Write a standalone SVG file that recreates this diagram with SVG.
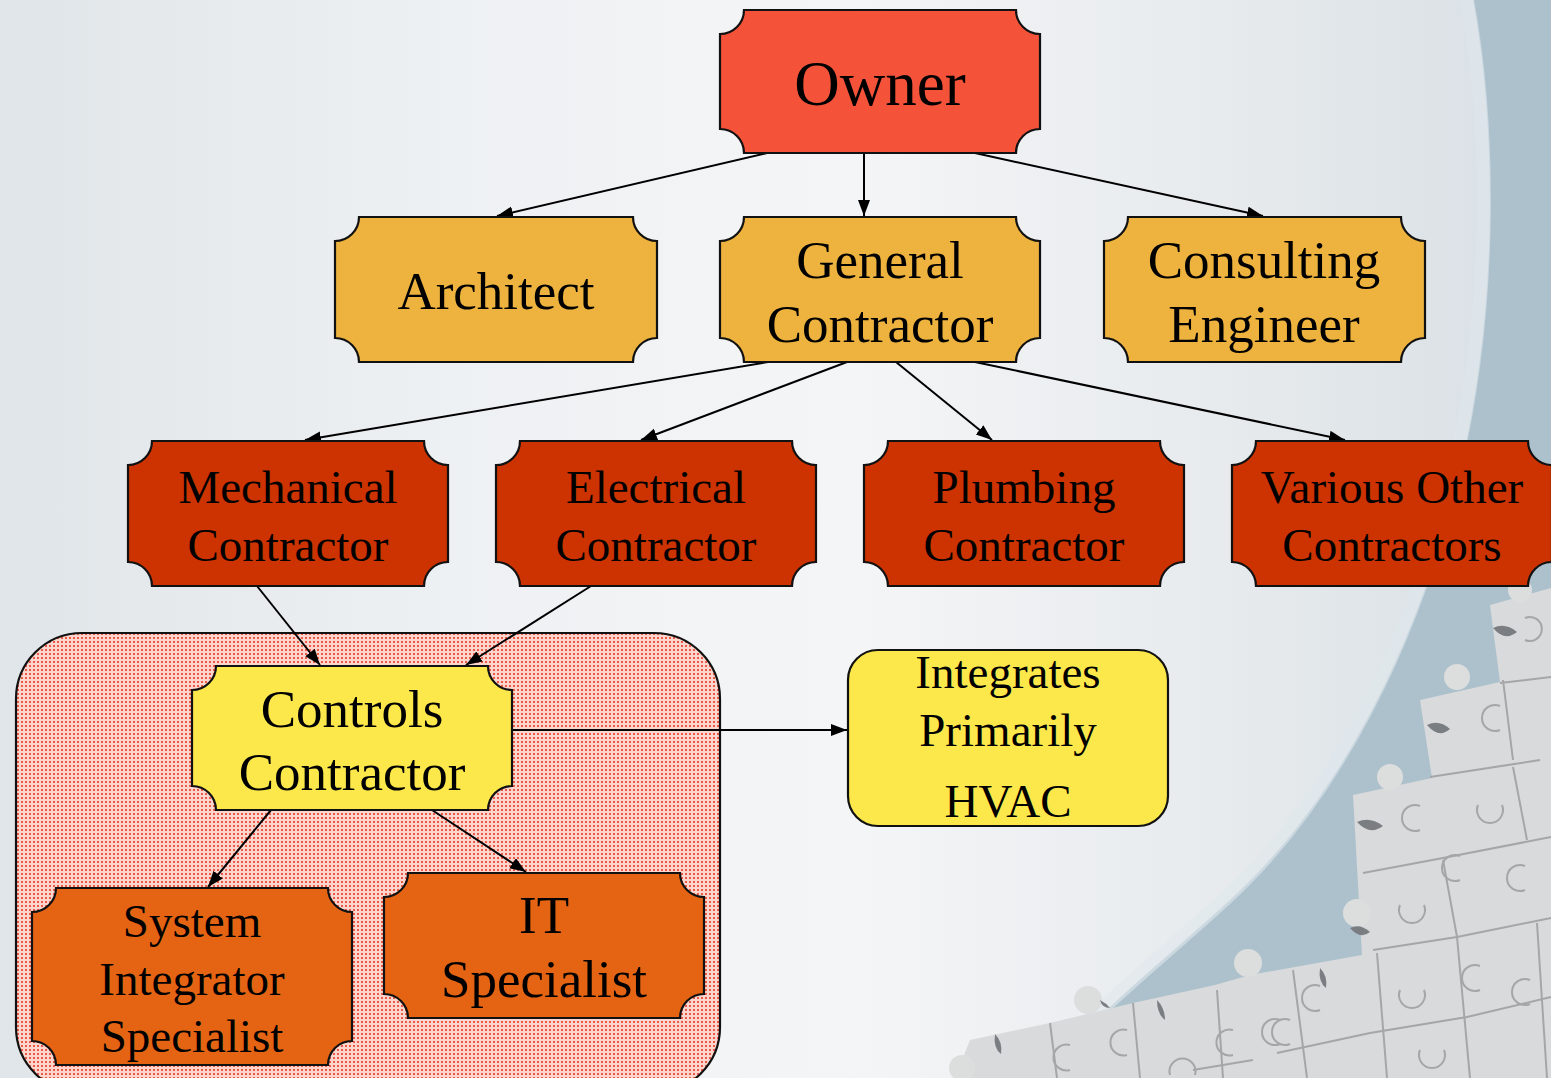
<svg xmlns="http://www.w3.org/2000/svg" width="1551" height="1078" viewBox="0 0 1551 1078">
  <defs>
    <linearGradient id="bg" x1="0" y1="0" x2="1" y2="0">
      <stop offset="0" stop-color="#e0e5e9"/>
      <stop offset="0.3" stop-color="#eef1f3"/>
      <stop offset="0.55" stop-color="#f4f5f6"/>
      <stop offset="0.8" stop-color="#e6eaed"/>
      <stop offset="1" stop-color="#d8dfe4"/>
    </linearGradient>
    <pattern id="dots" width="4" height="4" patternUnits="userSpaceOnUse">
      <rect width="4" height="4" fill="#fad6cf"/>
      <rect x="1" y="1" width="2" height="2" fill="#ec5a45"/>
    </pattern>
    <marker id="arrow" markerWidth="17" markerHeight="13" refX="16" refY="6" orient="auto" markerUnits="userSpaceOnUse">
      <path d="M0,0 L16,6 L0,12 Z" fill="#000"/>
    </marker>
  </defs>
  <style>
    .box { stroke: #111; stroke-width: 2.2; }
    .owner { fill: #f4533a; }
    .tier2 { fill: #edb33e; }
    .tier3 { fill: #cc3300; }
    .controls { fill: #fde84b; }
    .special { fill: #e56413; }
    .note { fill: #fde84b; stroke: #111; stroke-width: 2.2; }
    text { font-family: "Liberation Serif", "Times New Roman", serif; fill: #000; text-anchor: middle; }
    .big { font-size: 63px; }
    .mid { font-size: 53px; }
    .sm { font-size: 47px; }
    .edge { stroke: #000; stroke-width: 2; fill: none; marker-end: url(#arrow); }
    .seam { stroke: #a4a6a8; stroke-width: 2; fill: none; }
    .hole { fill: #7a7e82; }
    .knob { fill: #dcdddd; }
  </style>

  <!-- backdrop -->
  <g id="backdrop">
    <rect width="1551" height="1078" fill="url(#bg)"/>
    <path d="M1473,0 C1495,120 1500,300 1460,470 C1420,640 1340,800 1230,900 C1170,955 1100,1010 1040,1078 L1551,1078 L1551,0 Z" fill="#adc1cd"/>
    <path d="M1473,0 C1495,120 1500,300 1460,470 C1420,640 1340,800 1230,900 C1170,955 1100,1010 1040,1078" fill="none" stroke="#e0e8ec" stroke-width="14" opacity="0.6" transform="translate(-6,0)"/>
    <!-- jigsaw pieces -->
    <path d="M1551,588 L1490,605 L1500,682 L1420,700 L1432,778 L1353,795 L1362,955 L1250,975 L1215,985 L1133,1003 L1050,1023 L970,1040 L955,1078 L1551,1078 Z" fill="#d9dadb"/>
    <circle class="knob" cx="1457" cy="677" r="13"/>
    <circle class="knob" cx="1390" cy="777" r="13"/>
    <circle class="knob" cx="1357" cy="913" r="14"/>
    <circle class="knob" cx="1088" cy="1000" r="14"/>
    <circle class="knob" cx="1248" cy="963" r="14"/>
    <circle class="knob" cx="962" cy="1068" r="13"/>
    <circle class="knob" cx="1520" cy="590" r="12"/>
    <path class="hole" d="M1493,628 q12,-6 24,4 q-12,10 -24,-4 Z"/>
    <path class="hole" d="M1427,725 q12,-6 23,4 q-11,10 -23,-4 Z"/>
    <path class="hole" d="M1357,822 q13,-6 26,4 q-13,10 -26,-4 Z"/>
    <path class="hole" d="M1350,928 q10,-5 20,4 q-10,8 -20,-4 Z"/>
    <path class="hole" d="M1320,968 q8,8 6,20 q-8,-6 -6,-20 Z"/>
    <path class="hole" d="M995,1034 q8,8 6,20 q-8,-6 -6,-20 Z"/>
    <path class="hole" d="M1100,1000 q6,3 10,8 q-8,0 -10,-8 Z"/>
    <path class="hole" d="M1157,1000 q8,8 8,20 q-8,-6 -8,-20 Z"/>
    <g class="seam">
      <path d="M1500,683 L1551,677"/>
      <path d="M1430,777 L1540,760"/>
      <path d="M1503,680 L1513,760"/>
      <path d="M1363,873 L1443,858 L1551,837"/>
      <path d="M1443,860 L1457,937"/>
      <path d="M1513,767 L1527,840"/>
      <path d="M1373,950 L1457,937 L1551,918"/>
      <path d="M1277,1053 L1370,1033 L1467,1017 L1551,997"/>
      <path d="M1293,970 L1307,1078"/>
      <path d="M1377,953 L1387,1078"/>
      <path d="M1457,937 L1470,1078"/>
      <path d="M1537,923 L1547,1078"/>
      <path d="M1050,1023 L1057,1078"/>
      <path d="M1133,1003 L1140,1078"/>
      <path d="M1217,990 L1223,1078"/>
      <path d="M1193,1070 L1253,1060"/>
      <path d="M1525,640 a12,12 0 1,0 0,-22"/>
      <path d="M1500,730 a13,13 0 1,1 0,-24"/>
      <path d="M1420,830 a13,13 0 1,1 0,-24"/>
      <path d="M1478,805 a13,13 0 1,0 24,0"/>
      <path d="M1400,905 a13,13 0 1,0 24,0"/>
      <path d="M1525,890 a13,13 0 1,1 0,-24"/>
      <path d="M1460,880 a13,13 0 1,1 0,-24"/>
      <path d="M1400,990 a13,13 0 1,0 24,0"/>
      <path d="M1320,1010 a13,13 0 1,1 0,-24"/>
      <path d="M1290,1020 a13,13 0 1,0 0,24"/>
      <path d="M1480,990 a13,13 0 1,1 0,-24"/>
      <path d="M1530,980 a13,13 0 1,0 0,24"/>
      <path d="M1420,1050 a13,13 0 1,0 24,0"/>
      <path d="M1070,1045 a13,13 0 1,0 0,25"/>
      <path d="M1127,1030 a13,13 0 1,0 0,25"/>
      <path d="M1170,1075 a13,13 0 1,1 25,0"/>
      <path d="M1233,1030 a13,13 0 1,0 0,25"/>
      <path d="M1280,1020 a13,13 0 1,0 0,24"/>
    </g>
  </g>

  <!-- boundary around the controls trades -->
  <g id="controls-group">
    <rect x="16" y="633" width="704" height="460" rx="66" ry="66" fill="url(#dots)" stroke="#111" stroke-width="2.2"/>
  </g>

  <!-- connectors -->
  <g id="connectors">
    <line class="edge" x1="767" y1="153" x2="497" y2="216"/>
    <line class="edge" x1="864" y1="153" x2="864" y2="216"/>
    <line class="edge" x1="975" y1="153" x2="1263" y2="216"/>
    <line class="edge" x1="768" y1="362" x2="305" y2="440"/>
    <line class="edge" x1="847" y1="362" x2="641" y2="440"/>
    <line class="edge" x1="896" y1="362" x2="992" y2="440"/>
    <line class="edge" x1="975" y1="362" x2="1345" y2="440"/>
    <line class="edge" x1="257" y1="586" x2="320" y2="665"/>
    <line class="edge" x1="591" y1="586" x2="466" y2="665"/>
    <line class="edge" x1="512" y1="730" x2="847" y2="730"/>
    <line class="edge" x1="271" y1="810" x2="208" y2="887"/>
    <line class="edge" x1="432" y1="810" x2="526" y2="872"/>
  </g>

  <!-- nodes -->
  <g id="owner">
    <path class="box owner" d="M744,10 H1016 A24,24 0 0 0 1040,34 V129 A24,24 0 0 0 1016,153 H744 A24,24 0 0 0 720,129 V34 A24,24 0 0 0 744,10 Z"/>
    <text class="big" x="880" y="105">Owner</text>
  </g>
  <g id="architect">
    <path class="box tier2" d="M359,217 H633 A24,24 0 0 0 657,241 V338 A24,24 0 0 0 633,362 H359 A24,24 0 0 0 335,338 V241 A24,24 0 0 0 359,217 Z"/>
    <text class="mid" x="496" y="309">Architect</text>
  </g>
  <g id="general-contractor">
    <path class="box tier2" d="M744,217 H1016 A24,24 0 0 0 1040,241 V338 A24,24 0 0 0 1016,362 H744 A24,24 0 0 0 720,338 V241 A24,24 0 0 0 744,217 Z"/>
    <text class="mid" x="880" y="278">General</text>
    <text class="mid" x="880" y="342">Contractor</text>
  </g>
  <g id="consulting-engineer">
    <path class="box tier2" d="M1128,217 H1401 A24,24 0 0 0 1425,241 V338 A24,24 0 0 0 1401,362 H1128 A24,24 0 0 0 1104,338 V241 A24,24 0 0 0 1128,217 Z"/>
    <text class="mid" x="1264" y="278">Consulting</text>
    <text class="mid" x="1264" y="342">Engineer</text>
  </g>
  <g id="mechanical-contractor">
    <path class="box tier3" d="M152,441 H424 A24,24 0 0 0 448,465 V562 A24,24 0 0 0 424,586 H152 A24,24 0 0 0 128,562 V465 A24,24 0 0 0 152,441 Z"/>
    <text class="sm" x="288" y="503">Mechanical</text>
    <text class="sm" x="288" y="561">Contractor</text>
  </g>
  <g id="electrical-contractor">
    <path class="box tier3" d="M520,441 H792 A24,24 0 0 0 816,465 V562 A24,24 0 0 0 792,586 H520 A24,24 0 0 0 496,562 V465 A24,24 0 0 0 520,441 Z"/>
    <text class="sm" x="656" y="503">Electrical</text>
    <text class="sm" x="656" y="561">Contractor</text>
  </g>
  <g id="plumbing-contractor">
    <path class="box tier3" d="M888,441 H1160 A24,24 0 0 0 1184,465 V562 A24,24 0 0 0 1160,586 H888 A24,24 0 0 0 864,562 V465 A24,24 0 0 0 888,441 Z"/>
    <text class="sm" x="1024" y="503">Plumbing</text>
    <text class="sm" x="1024" y="561">Contractor</text>
  </g>
  <g id="other-contractors">
    <path class="box tier3" d="M1256,441 H1528 A24,24 0 0 0 1552,465 V562 A24,24 0 0 0 1528,586 H1256 A24,24 0 0 0 1232,562 V465 A24,24 0 0 0 1256,441 Z"/>
    <text class="sm" x="1392" y="503">Various Other</text>
    <text class="sm" x="1392" y="561">Contractors</text>
  </g>
  <g id="controls-contractor">
    <path class="box controls" d="M216,666 H488 A24,24 0 0 0 512,690 V786 A24,24 0 0 0 488,810 H216 A24,24 0 0 0 192,786 V690 A24,24 0 0 0 216,666 Z"/>
    <text class="mid" x="352" y="727">Controls</text>
    <text class="mid" x="352" y="790">Contractor</text>
  </g>
  <g id="hvac-note">
    <rect class="note" x="848" y="650" width="320" height="176" rx="30" ry="30"/>
    <text class="sm" x="1008" y="688">Integrates</text>
    <text class="sm" x="1008" y="746">Primarily</text>
    <text class="sm" x="1008" y="817">HVAC</text>
  </g>
  <g id="system-integrator">
    <path class="box special" d="M56,888 H328 A24,24 0 0 0 352,912 V1041 A24,24 0 0 0 328,1065 H56 A24,24 0 0 0 32,1041 V912 A24,24 0 0 0 56,888 Z"/>
    <text class="sm" x="192" y="937">System</text>
    <text class="sm" x="192" y="995">Integrator</text>
    <text class="sm" x="192" y="1052">Specialist</text>
  </g>
  <g id="it-specialist">
    <path class="box special" d="M408,873 H680 A24,24 0 0 0 704,897 V994 A24,24 0 0 0 680,1018 H408 A24,24 0 0 0 384,994 V897 A24,24 0 0 0 408,873 Z"/>
    <text class="mid" x="544" y="933">IT</text>
    <text class="mid" x="544" y="997">Specialist</text>
  </g>
</svg>
